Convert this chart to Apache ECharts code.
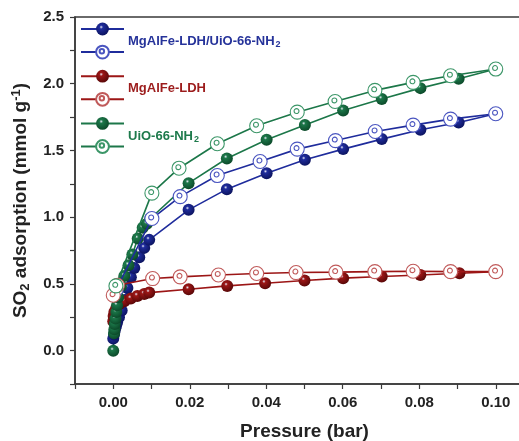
<!DOCTYPE html>
<html>
<head>
<meta charset="utf-8">
<script src="https://cdn.jsdelivr.net/npm/echarts@6/dist/echarts.min.js"></script>
<style>
html,body{margin:0;padding:0;background:#fff;}
#chart{width:519px;height:441px;}
</style>
</head>
<body>
<div id="chart"></div>
<script>
// ---- data ----
const seriesNames = ['MgAlFe-LDH/UiO-66-NH2 ads', 'MgAlFe-LDH/UiO-66-NH2 des', 'MgAlFe-LDH ads', 'MgAlFe-LDH des', 'UiO-66-NH2 ads', 'UiO-66-NH2 des'];

const compAdsX = [0.0000, 0.0002, 0.0004, 0.0007, 0.0010, 0.0015, 0.0022, 0.0030, 0.0037, 0.0046, 0.0055, 0.0068, 0.0081, 0.0094, 0.0197, 0.0297, 0.0401, 0.0501, 0.0601, 0.0702, 0.0803, 0.0903, 0.1000];
const compAdsY = [0.09, 0.12, 0.15, 0.18, 0.21, 0.25, 0.30, 0.38, 0.47, 0.55, 0.62, 0.70, 0.77, 0.83, 1.055, 1.21, 1.33, 1.43, 1.51, 1.585, 1.655, 1.71, 1.775];
const compDesX = [0.0008, 0.0101, 0.0175, 0.0272, 0.0384, 0.0481, 0.0581, 0.0685, 0.0784, 0.0882, 0.1000];
const compDesY = [0.46, 0.99, 1.154, 1.312, 1.417, 1.51, 1.574, 1.642, 1.69, 1.735, 1.775];

const ldhAdsX = [0.0000, 0.0001, 0.0003, 0.0008, 0.0016, 0.0029, 0.0046, 0.0063, 0.0081, 0.0094, 0.0197, 0.0298, 0.0397, 0.0500, 0.0601, 0.0702, 0.0803, 0.0905, 0.1000];
const ldhAdsY = [0.22, 0.26, 0.29, 0.32, 0.35, 0.37, 0.39, 0.41, 0.425, 0.435, 0.46, 0.485, 0.505, 0.525, 0.543, 0.555, 0.567, 0.58, 0.592];
const ldhDesX = [0.0000, 0.0011, 0.0103, 0.0175, 0.0275, 0.0375, 0.0478, 0.0582, 0.0684, 0.0784, 0.0882, 0.1000];
const ldhDesY = [0.415, 0.49, 0.54, 0.553, 0.567, 0.578, 0.585, 0.588, 0.592, 0.595, 0.592, 0.592];

const uioAdsX = [0.0000, 0.0002, 0.0003, 0.0004, 0.0006, 0.0008, 0.0010, 0.0013, 0.0020, 0.0029, 0.0040, 0.0050, 0.0064, 0.0077, 0.0088, 0.0097, 0.0197, 0.0297, 0.0401, 0.0501, 0.0601, 0.0702, 0.0803, 0.0903, 0.1000];
const uioAdsY = [0.00, 0.13, 0.16, 0.20, 0.24, 0.29, 0.34, 0.40, 0.48, 0.56, 0.64, 0.72, 0.84, 0.92, 0.95, 0.99, 1.255, 1.44, 1.58, 1.69, 1.80, 1.885, 1.967, 2.037, 2.11];
const uioDesX = [0.0007, 0.0101, 0.0172, 0.0272, 0.0375, 0.0481, 0.0580, 0.0684, 0.0784, 0.0882, 0.1000];
const uioDesY = [0.485, 1.18, 1.367, 1.55, 1.685, 1.787, 1.867, 1.95, 2.01, 2.06, 2.11];

const xTickLabels = ['0.00', '0.02', '0.04', '0.06', '0.08', '0.10'];
const yTickLabels = ['0.0', '0.5', '1.0', '1.5', '2.0', '2.5'];

// ---- styling ----
const BLUE = '#1f2c9c', RED = '#9c1616', GREEN = '#1c7749';
const BLUE_O = '#4a55c0', RED_O = '#c05a5a', GREEN_O = '#3c9668';
const DARK = { [BLUE]: '#0c1460', [RED]: '#5a0808', [GREEN]: '#0c4a2a' };
const openPath = 'path://M0,10A10,10 0 1,1 20,10A10,10 0 1,1 0,10ZM5.5,8.5A3.5,3.5 0 1,1 12.5,8.5A3.5,3.5 0 1,1 5.5,8.5Z';

function zip(xs, ys) { return xs.map((x, i) => [x, ys[i]]); }
function sphere(c) {
  return { type: 'radial', x: 0.4, y: 0.35, r: 0.65,
    colorStops: [{ offset: 0, color: '#e6e8f5' }, { offset: 0.22, color: c }, { offset: 1, color: DARK[c] }] };
}
function filled(name, xs, ys, c) {
  return { name, type: 'line', data: zip(xs, ys), symbol: 'circle', symbolSize: 12,
    lineStyle: { color: c, width: 1.6 }, itemStyle: { color: sphere(c) },
    emphasis: { disabled: true }, z: 2 };
}
function open(name, xs, ys, c, oc) {
  return { name, type: 'line', data: zip(xs, ys), symbol: openPath, symbolSize: 14, symbolKeepAspect: true,
    lineStyle: { color: c, width: 1.6 }, itemStyle: { color: '#ffffff', borderColor: oc, borderWidth: 1.1 },
    emphasis: { disabled: true }, z: 3 };
}

const FONT = '"Liberation Sans", Arial, sans-serif';
const chart = echarts.init(document.getElementById('chart'), null, { renderer: 'canvas' });

function legendLabel(main, sub, color, x, y) {
  return { type: 'text', left: x, top: y, z: 10,
    style: { text: '{a|' + main + '}{b|' + sub + '}', font: 'bold 13px ' + FONT, fill: color,
      rich: { a: { fontSize: 13, fontWeight: 'bold', fontFamily: FONT, fill: color, color: color },
              b: { fontSize: 9, fontWeight: 'bold', fontFamily: FONT, fill: color, color: color, padding: [7, 0, 0, 1] } } } };
}

chart.setOption({
  animation: false,
  backgroundColor: '#ffffff',
  grid: { left: 75, right: -15, top: 17, bottom: 57, show: true, borderColor: '#3a3a3a', borderWidth: 1.5, outerBoundsMode: 'none', containLabel: false },
  xAxis: {
    type: 'value', min: -0.01, max: 0.11, interval: 0.01,
    name: 'Pressure (bar)', nameLocation: 'middle', nameGap: 38,
    nameTextStyle: { fontFamily: FONT, fontWeight: 'bold', fontSize: 19, color: '#222' },
    axisLine: { show: true, onZero: false, lineStyle: { color: '#3a3a3a', width: 1.5 } },
    axisTick: { show: true, inside: false, length: 5, lineStyle: { color: '#3a3a3a', width: 1.2 } },
    axisLabel: { margin: 11, fontFamily: FONT, fontWeight: 'bold', fontSize: 15, color: '#222',
      formatter: v => { const k = Math.round(v * 100); return (k >= 0 && k % 2 === 0 && k / 2 < xTickLabels.length) ? xTickLabels[k / 2] : ''; } },
    splitLine: { show: false }
  },
  yAxis: {
    type: 'value', min: -0.25, max: 2.5, interval: 0.25,
    name: '{a|SO}{s|2}{a| adsorption (mmol g}{p|-1}{a|)}', nameLocation: 'middle', nameGap: 38, nameRotate: 90,
    nameTextStyle: { fontFamily: FONT, fontWeight: 'bold', fontSize: 19, color: '#222',
      rich: { a: { fontFamily: FONT, fontWeight: 'bold', fontSize: 19, color: '#222' },
              s: { fontFamily: FONT, fontWeight: 'bold', fontSize: 13, color: '#222', padding: [10, 0, 0, 0] },
              p: { fontFamily: FONT, fontWeight: 'bold', fontSize: 13, color: '#222', padding: [0, 0, 9, 0] } } },
    axisLine: { show: true, onZero: false, lineStyle: { color: '#3a3a3a', width: 1.5 } },
    axisTick: { show: true, inside: false, length: 5, lineStyle: { color: '#3a3a3a', width: 1.2 } },
    axisLabel: { margin: 11, fontFamily: FONT, fontWeight: 'bold', fontSize: 15, color: '#222',
      formatter: v => { const k = Math.round(v * 4); return (k >= 0 && k % 2 === 0 && k / 2 < yTickLabels.length) ? yTickLabels[k / 2] : ''; } },
    splitLine: { show: false }
  },
  legend: {
    orient: 'vertical', left: 80, top: 21, padding: 0,
    itemWidth: 43, itemHeight: 16, itemGap: 8.7,
    data: seriesNames, formatter: () => '', selectedMode: false,
    textStyle: { fontSize: 1 }
  },
  graphic: [
    legendLabel('MgAlFe-LDH/UiO-66-NH', '2', '#26339a', 128, 35),
    legendLabel('MgAlFe-LDH', '', '#9c1c1c', 128, 82),
    legendLabel('UiO-66-NH', '2', '#1e7a4c', 128, 130)
  ],
  series: [
    filled(seriesNames[0], compAdsX, compAdsY, BLUE),
    open(seriesNames[1], compDesX, compDesY, BLUE, BLUE_O),
    filled(seriesNames[2], ldhAdsX, ldhAdsY, RED),
    open(seriesNames[3], ldhDesX, ldhDesY, RED, RED_O),
    filled(seriesNames[4], uioAdsX, uioAdsY, GREEN),
    open(seriesNames[5], uioDesX, uioDesY, GREEN, GREEN_O)
  ]
});
</script>
</body>
</html>
